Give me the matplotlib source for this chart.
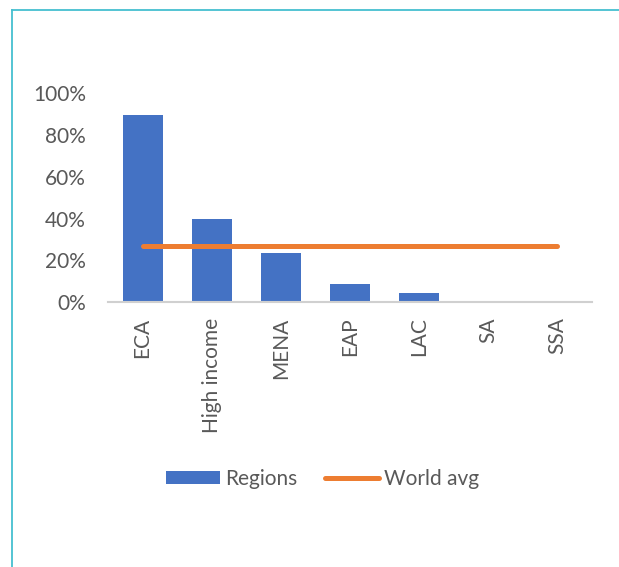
import matplotlib.pyplot as plt
from matplotlib.lines import Line2D
from matplotlib.patches import Patch
from matplotlib.ticker import PercentFormatter

categories = ["ECA", "High income", "MENA", "EAP", "LAC", "SA", "SSA"]
regions = [0.895, 0.40, 0.235, 0.085, 0.043, 0.0, 0.0]
world_avg = [0.268] * len(categories)

plt.rcParams['font.family'] = ['Lato', 'DejaVu Sans']
grey = "#595959"
blue = "#4472C4"
orange = "#ED7D31"

fig = plt.figure(figsize=(6.19, 5.67), dpi=100)
ax = fig.add_axes([108 / 619, 0.467, 484 / 619, 0.369])

x = list(range(len(categories)))
ax.bar(x, regions, width=0.58, color=blue, zorder=2)
ax.plot(x, world_avg, color=orange, lw=3.6, solid_capstyle="round", zorder=3)

ax.set_xlim(-0.5, len(categories) - 0.5)
ax.set_ylim(0, 1.0)
ax.set_yticks([0, 0.2, 0.4, 0.6, 0.8, 1.0])
ax.yaxis.set_major_formatter(PercentFormatter(1.0, decimals=0))
ax.set_xticks(x)
ax.set_xticklabels(categories, rotation=90, va="top")
ax.tick_params(axis="y", length=0, pad=16, labelsize=15, labelcolor=grey)
ax.tick_params(axis="x", length=0, pad=11, labelsize=15, labelcolor=grey)

for s in ["top", "left", "right"]:
    ax.spines[s].set_visible(False)
ax.spines["bottom"].set_color("#d0d0d0")
ax.spines["bottom"].set_linewidth(1.5)

handles = [Patch(facecolor=blue, label="Regions"),
           Line2D([], [], color=orange, lw=3.6, solid_capstyle="round", label="World avg")]
leg = fig.legend(handles=handles, loc="center", bbox_to_anchor=(0.521, 0.155), ncol=2,
                 frameon=False, fontsize=15, handlelength=2.6, handleheight=0.6,
                 handletextpad=0.25, columnspacing=1.3)
for t in leg.get_texts():
    t.set_color(grey)

# frame lines of the panel
cyan = "#45BFD0"
fig.add_artist(Line2D([12 / 619, 1], [1 - 10 / 567, 1 - 10 / 567], color=cyan, lw=1.3,
                      transform=fig.transFigure))
fig.add_artist(Line2D([12 / 619, 12 / 619], [0, 1 - 10 / 567], color=cyan, lw=1.3,
                      transform=fig.transFigure))

fig.savefig("out.png", dpi=100)
